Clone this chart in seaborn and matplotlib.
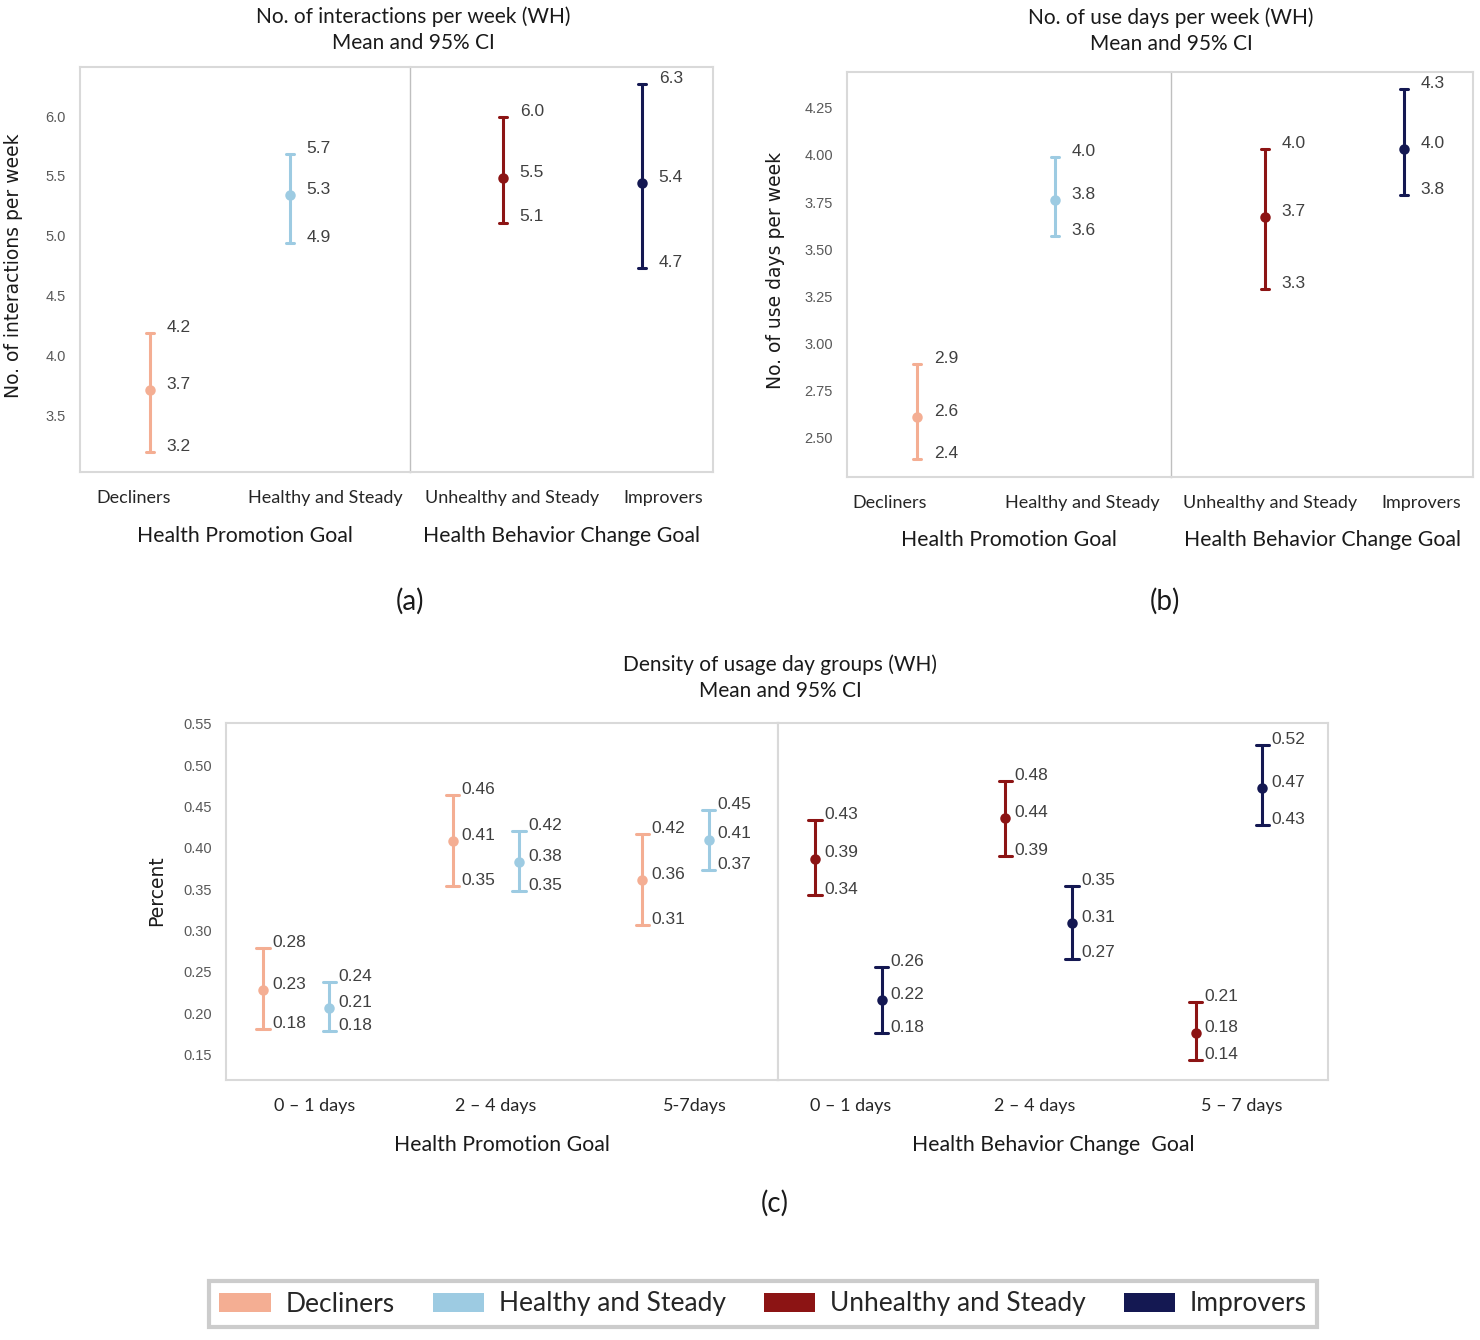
import numpy as np
import pandas as pd
import matplotlib
matplotlib.use("Agg")
import matplotlib.pyplot as plt
from matplotlib.patches import Patch
import seaborn as sns

sns.set_style("white")
plt.rcParams["font.family"] = ["Lato", "DejaVu Sans"]

groups = ["Decliners", "Healthy and Steady", "Unhealthy and Steady", "Improvers"]
colors = ["#F4AE93", "#9DCBE2", "#8C1414", "#141852"]
palette = dict(zip(groups, colors))

# (a) interactions per week: lower CI, mean, upper CI
inter_lo = [3.19, 4.94, 5.11, 4.73]
inter_mean = [3.71, 5.34, 5.48, 5.44]
inter_hi = [4.19, 5.68, 5.99, 6.27]

# (b) use days per week
days_lo = [2.39, 3.57, 3.29, 3.79]
days_mean = [2.61, 3.76, 3.67, 4.03]
days_hi = [2.89, 3.99, 4.03, 4.35]

# (c) density of usage day groups
hp_days = ["0 \u2013 1 days", "2 \u2013 4 days", "5-7days"]
hbc_days = ["0 \u2013 1 days", "2 \u2013 4 days", "5 \u2013 7 days"]
decl_lo = [0.181, 0.354, 0.306]
decl_mean = [0.228, 0.408, 0.361]
decl_hi = [0.279, 0.464, 0.417]
healthy_lo = [0.178, 0.348, 0.373]
healthy_mean = [0.206, 0.383, 0.410]
healthy_hi = [0.237, 0.420, 0.446]
unhealthy_lo = [0.343, 0.390, 0.143]
unhealthy_mean = [0.387, 0.436, 0.176]
unhealthy_hi = [0.434, 0.481, 0.213]
impr_lo = [0.176, 0.266, 0.428]
impr_mean = [0.216, 0.309, 0.472]
impr_hi = [0.256, 0.354, 0.524]

W, H = 1480, 1340
fig = plt.figure(figsize=(W / 100, H / 100), dpi=100)


def px_axes(x0, y0, x1, y1):
    return fig.add_axes([x0 / W, 1 - y1 / H, (x1 - x0) / W, (y1 - y0) / H])


def fx(x):
    return x / W


def fy(y):
    return 1 - y / H


def long_frame(xs, hues, lo, mean, hi):
    rows = []
    for x, h, a, m, b in zip(xs, hues, lo, mean, hi):
        for v in (a, m, b):
            rows.append({"x": x, "group": h, "value": v})
    return pd.DataFrame(rows)


def style_axes(ax, left_side, yticks, fmt, ylim, xlim):
    ax.set_ylim(*ylim)
    ax.set_xlim(*xlim)
    for s in ax.spines.values():
        s.set_color("#D9D9D9")
        s.set_linewidth(1.5)
    ax.tick_params(length=0)
    if left_side:
        ax.set_yticks(yticks)
        ax.set_yticklabels([fmt % t for t in yticks], family="Liberation Sans",
                           fontsize=10.5, color="#595959")
        ax.tick_params(axis="y", pad=10)
    else:
        ax.set_yticks([])


def point_panel(ax, df, order, hue_order, dodge, capsize):
    sns.pointplot(data=df, x="x", y="value", hue="group", order=order,
                  hue_order=hue_order, palette=palette, estimator="median",
                  errorbar=("pi", 100), capsize=capsize, dodge=dodge,
                  linestyle="none", markersize=5.5, err_kws={"linewidth": 2.2},
                  legend=False, ax=ax)
    ax.set_ylabel("")


def label_values(ax, pos, lo, mean, hi, dx, fmt, size):
    for p, a, m, b in zip(pos, lo, mean, hi):
        for v in (a, m, b):
            ax.annotate(fmt % v, (p, v), xytext=(dx, 4), textcoords="offset points",
                        ha="left", va="center", family="Liberation Sans",
                        fontsize=size, color="#404040")


def cat_labels(ax, labels, shifts, pad, size=13):
    ax.set_xticks(np.arange(len(labels)) + np.array(shifts))
    ax.set_xticklabels(labels, fontsize=size, color="#262626")
    ax.tick_params(axis="x", pad=pad)


# ---------- panels (a) and (b) ----------
top_panels = [
    dict(lo=inter_lo, mean=inter_mean, hi=inter_hi,
         box=(80, 67, 410, 713, 472), ylim=(3.025, 6.41),
         xl=(-0.5, 1.857), xr=(-0.67, 1.51),
         yticks=[3.5, 4.0, 4.5, 5.0, 5.5, 6.0], fmt="%.1f",
         ylabel="No. of interactions per week", ylab_xy=(-0.172, 0.51),
         title="No. of interactions per week (WH)\nMean and 95% CI", title_xy=(413, 30),
         shifts_l=[-0.12, 0.25], shifts_r=[0.065, 0.15], tag="(a)", tag_xy=(410, 601)),
    dict(lo=days_lo, mean=days_mean, hi=days_hi,
         box=(847, 72, 1171, 1473, 477), ylim=(2.293, 4.44),
         xl=(-0.507, 1.84), xr=(-0.676, 1.496),
         yticks=[2.5, 2.75, 3.0, 3.25, 3.5, 3.75, 4.0, 4.25], fmt="%.2f",
         ylabel="No. of use days per week", ylab_xy=(-0.19, 0.51),
         title="No. of use days per week (WH)\nMean and 95% CI", title_xy=(1171, 31),
         shifts_l=[-0.196, 0.196], shifts_r=[0.036, 0.122], tag="(b)", tag_xy=(1165, 601)),
]

for pnl in top_panels:
    x0, y0, xm, x1, y1 = pnl["box"]
    axl = px_axes(x0, y0, xm, y1)
    axr = px_axes(xm, y0, x1, y1)
    for ax, sl, shifts, xlim, left in ((axl, slice(0, 2), pnl["shifts_l"], pnl["xl"], True),
                                       (axr, slice(2, 4), pnl["shifts_r"], pnl["xr"], False)):
        names = groups[sl]
        df = long_frame(names, names, pnl["lo"][sl], pnl["mean"][sl], pnl["hi"][sl])
        point_panel(ax, df, names, names, False, 0.06)
        style_axes(ax, left, pnl["yticks"], pnl["fmt"], pnl["ylim"], xlim)
        label_values(ax, range(2), pnl["lo"][sl], pnl["mean"][sl], pnl["hi"][sl],
                     12, "%.1f", 12.5)
        cat_labels(ax, names, shifts, pad=13)
    axl.spines["right"].set_visible(False)
    axr.spines["left"].set_color("#BFBFBF")
    axr.spines["left"].set_linewidth(1.0)
    axl.set_xlabel("Health Promotion Goal", fontsize=15.3, color="#1a1a1a", labelpad=14)
    axr.set_xlabel("Health Behavior Change Goal", fontsize=15.3, color="#1a1a1a", labelpad=14)
    axl.set_ylabel(pnl["ylabel"], family="DejaVu Sans", fontsize=13.5, color="#1a1a1a")
    axl.yaxis.set_label_coords(*pnl["ylab_xy"])
    fig.text(fx(pnl["title_xy"][0]), fy(pnl["title_xy"][1]), pnl["title"],
             ha="center", va="center", fontsize=15, linespacing=1.35, color="#1a1a1a")
    fig.text(fx(pnl["tag_xy"][0]), fy(pnl["tag_xy"][1]), pnl["tag"],
             ha="center", va="center", fontsize=20, color="#1a1a1a")

# ---------- panel (c) ----------
dodge = 0.35
c_ylim = (0.119, 0.551)
c_ticks = [0.15, 0.20, 0.25, 0.30, 0.35, 0.40, 0.45, 0.50, 0.55]
c_sets = [
    (px_axes(226, 723, 778, 1080), hp_days, ["Decliners", "Healthy and Steady"],
     [(decl_lo, decl_mean, decl_hi), (healthy_lo, healthy_mean, healthy_hi)],
     (-0.37, 2.54), True, [0.095, 0.053, 0.1], "Health Promotion Goal"),
    (px_axes(778, 723, 1328, 1080), hbc_days, ["Unhealthy and Steady", "Improvers"],
     [(unhealthy_lo, unhealthy_mean, unhealthy_hi), (impr_lo, impr_mean, impr_hi)],
     (-0.37, 2.52), False, [0.01, -0.02, 0.066], "Health Behavior Change  Goal"),
]
for ax, days, hue_order, series, xlim, left, shifts, xlabel in c_sets:
    frames = [long_frame(days, [g] * 3, *s) for g, s in zip(hue_order, series)]
    df = pd.concat(frames, ignore_index=True)
    point_panel(ax, df, days, hue_order, dodge, 0.07)
    style_axes(ax, left, c_ticks, "%.2f", c_ylim, xlim)
    for j, s in enumerate(series):
        offs = -dodge / 2 + dodge * j
        label_values(ax, np.arange(3) + offs, *s, 6.5, "%.2f", 12.5)
    cat_labels(ax, days, shifts, pad=13, size=13)
    ax.set_xlabel(xlabel, fontsize=15.3, color="#1a1a1a", labelpad=15)
    if left:
        ax.set_ylabel("Percent", family="DejaVu Sans", fontsize=13.5, color="#1a1a1a")
        ax.yaxis.set_label_coords(-0.109, 0.53)

fig.text(fx(780), fy(678), "Density of usage day groups (WH)\nMean and 95% CI",
         ha="center", va="center", fontsize=15, linespacing=1.35, color="#1a1a1a")
fig.text(fx(775), fy(1203), "(c)", ha="center", va="center", fontsize=20, color="#1a1a1a")

# ---------- legend ----------
handles = [Patch(facecolor=c, edgecolor="none") for c in colors]
leg = fig.legend(handles, groups, loc="center", bbox_to_anchor=(fx(763), fy(1304)),
                 ncol=4, frameon=True, fancybox=False, fontsize=19,
                 handlelength=1.95, handleheight=0.76, handletextpad=0.55,
                 columnspacing=1.45, borderpad=0.4)
leg.get_frame().set_edgecolor("#C0C0C0")
leg.get_frame().set_linewidth(3)

fig.savefig("out.png", dpi=100)
